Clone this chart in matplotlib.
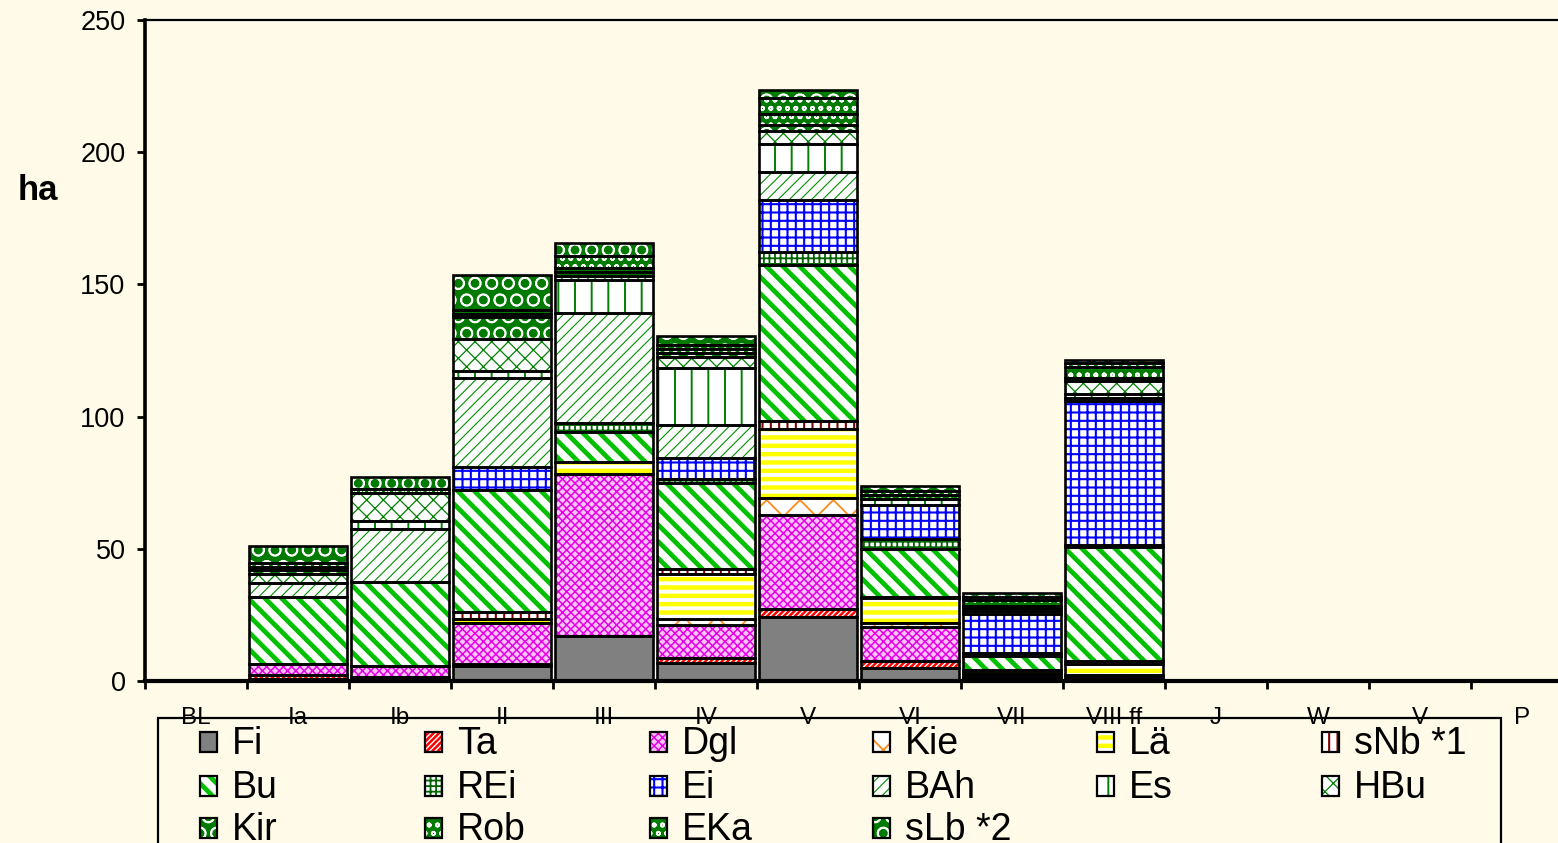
import matplotlib
matplotlib.use('Agg')
import matplotlib.pyplot as plt
from matplotlib.patches import Rectangle
import numpy as np

# ---------------- data ----------------
categories = ['BL', 'Ia', 'Ib', 'II', 'III', 'IV', 'V', 'VI', 'VII', 'VIII ff', 'J', 'W', 'V', 'P']

Fi  = [0, 0.8, 1.5, 5.5, 17.0, 6.8, 24.2, 4.9, 1.0, 0.5, 0, 0, 0, 0]
Ta  = [0, 1.5, 0.0, 1.0, 0.0, 1.9, 3.2, 2.7, 0.5, 0.3, 0, 0, 0, 0]
Dgl = [0, 4.2, 4.0, 15.5, 61.3, 12.5, 35.4, 12.8, 1.2, 1.0, 0, 0, 0, 0]
Kie = [0, 0.0, 0.0, 0.0, 0.0, 2.4, 6.4, 1.4, 0.0, 0.5, 0, 0, 0, 0]
Lae = [0, 0.0, 0.0, 1.5, 4.5, 17.0, 26.0, 9.6, 1.0, 4.1, 0, 0, 0, 0]
sNb = [0, 0.0, 0.0, 2.5, 0.0, 1.8, 3.0, 0.5, 0.5, 1.0, 0, 0, 0, 0]
Bu  = [0, 25.3, 31.9, 46.2, 11.4, 32.5, 59.1, 18.0, 5.3, 43.3, 0, 0, 0, 0]
REi = [0, 0.0, 0.0, 0.0, 3.4, 1.5, 5.0, 3.8, 1.1, 0.7, 0, 0, 0, 0]
Ei  = [0, 0.0, 0.0, 8.8, 0.0, 7.9, 19.7, 12.9, 14.7, 54.5, 0, 0, 0, 0]
BAh = [0, 5.3, 20.1, 33.6, 41.6, 12.5, 10.5, 0.0, 1.2, 1.3, 0, 0, 0, 0]
Es  = [0, 0.0, 3.2, 2.8, 12.5, 21.6, 10.6, 2.2, 1.1, 1.3, 0, 0, 0, 0]
HBu = [0, 3.4, 10.4, 11.9, 1.5, 4.1, 5.1, 0.0, 0.0, 5.0, 0, 0, 0, 0]
Kir = [0, 1.3, 0.0, 8.4, 1.5, 1.7, 2.0, 0.0, 0.8, 1.0, 0, 0, 0, 0]
Rob = [0, 1.3, 1.5, 1.0, 1.5, 1.2, 4.1, 1.5, 2.2, 4.3, 0, 0, 0, 0]
EKa = [0, 1.5, 0.0, 1.5, 4.5, 1.6, 6.2, 1.5, 1.0, 1.5, 0, 0, 0, 0]
sLb = [0, 6.6, 4.7, 13.4, 5.0, 3.5, 3.0, 2.0, 1.7, 1.1, 0, 0, 0, 0]

series_names = ['Fi', 'Ta', 'Dgl', 'Kie', 'Lä', 'sNb *1', 'Bu', 'REi', 'Ei',
                'BAh', 'Es', 'HBu', 'Kir', 'Rob', 'EKa', 'sLb *2']
series_values = [Fi, Ta, Dgl, Kie, Lae, sNb, Bu, REi, Ei, BAh, Es, HBu, Kir, Rob, EKa, sLb]

y_ticks = [0, 50, 100, 150, 200, 250]

# ---------------- styles ----------------
BG = '#FFFBE8'
DG = '#007A00'
styles = {
    'Fi':     dict(face='#808080', hc='#808080', hatch=None, lw=1.0),
    'Ta':     dict(face='white', hc='#FF0000', hatch='//////', lw=1.8),
    'Dgl':    dict(face='#FBC4FB', hc='#E600E6', hatch='xxxx', lw=1.1),
    'Kie':    dict(face='white', hc='#FF8C1A', hatch='x', lw=1.3),
    'Lä':     dict(face='white', hc='#FFFF00', hatch='--', lw=3.2),
    'sNb *1': dict(face='white', hc='#800000', hatch='||', lw=1.5),
    'Bu':     dict(face='white', hc='#00C000', hatch='\\\\', lw=3.4),
    'REi':    dict(face='white', hc='#006400', hatch='+++', lw=1.3),
    'Ei':     dict(face='white', hc='#0000FF', hatch='++', lw=1.5),
    'BAh':    dict(face='white', hc='#009000', hatch='///', lw=0.8),
    'Es':     dict(face='white', hc='#008000', hatch='|', lw=1.4),
    'HBu':    dict(face='white', hc='#008000', hatch='xx', lw=0.9),
    'Kir':    dict(face=DG, hc='white', hatch='O', lw=1.2),
    'Rob':    dict(face=DG, hc='white', hatch='oo', lw=1.2),
    'EKa':    dict(face=DG, hc='white', hatch='oo', lw=1.2),
    'sLb *2': dict(face=DG, hc='white', hatch='O', lw=1.2),
}

W, H = 1558, 843
fig = plt.figure(figsize=(W / 100, H / 100), dpi=100, facecolor=BG)
ax = fig.add_axes([145 / W, 1 - 681 / H, (1573 - 145) / W, (681 - 20) / H])
ax.set_facecolor(BG)
ax.set_zorder(1)

x = np.arange(len(categories))
bw = 0.97
bottom = np.zeros(len(categories))
for name, vals in zip(series_names, series_values):
    st = styles[name]
    vals = np.array(vals, dtype=float)
    with plt.rc_context({'hatch.linewidth': st['lw']}):
        bars = ax.bar(x, vals, bw, bottom=bottom, color=st['face'],
                      edgecolor=st['hc'], hatch=st['hatch'], linewidth=0, zorder=2)
    for b in bars:
        if hasattr(b, 'set_hatch_linewidth'):
            b.set_hatch_linewidth(st['lw'])
    ax.bar(x, vals, bw, bottom=bottom, fill=False, edgecolor='black',
           linewidth=1.9, zorder=3)
    bottom += vals

ax.set_xlim(-0.5, len(categories) - 0.5)
ax.set_ylim(0, 250)
ax.set_yticks(y_ticks)
ax.set_yticklabels([str(v) for v in y_ticks], fontsize=19.5, family='Liberation Sans')
ax.tick_params(axis='y', length=6, width=2, pad=8, direction='out')

ax.set_xticks(np.arange(-0.5, len(categories), 1))
ax.set_xticklabels([])
ax.tick_params(axis='x', which='major', length=6, width=2, direction='out')
ax.set_xticks(x, minor=True)
ax.set_xticklabels(categories, minor=True, fontsize=17.5, family='Liberation Sans')
ax.tick_params(axis='x', which='minor', length=0, pad=19)

for side, lw in [('left', 2.6), ('bottom', 3.0), ('top', 1.6), ('right', 1.6)]:
    ax.spines[side].set_linewidth(lw)
    ax.spines[side].set_color('black')

fig.text(38 / W, 1 - 190 / H, 'ha', fontsize=25, fontweight='bold',
         family='Liberation Sans', ha='center', va='center')

# ---------------- legend (manual, row-major 6 columns) ----------------
def fx(px):
    return px / W

def fy(py):
    return 1 - py / H

frame = Rectangle((fx(158), fy(880)), fx(1501) - fx(158), fy(718) - fy(880),
                  transform=fig.transFigure, facecolor=BG, edgecolor='black',
                  linewidth=1.6, zorder=-1)
fig.add_artist(frame)

col_x = [200, 425, 650, 873, 1097, 1322]
row_y = [742, 786, 828]
for i, name in enumerate(series_names):
    r, c = divmod(i, 6)
    st = styles[name]
    ix, iy = col_x[c], row_y[r]
    with plt.rc_context({'hatch.linewidth': st['lw']}):
        p = Rectangle((fx(ix), fy(iy + 10)), fx(17), fy(0) - fy(20),
                      transform=fig.transFigure, facecolor=st['face'],
                      edgecolor=st['hc'], hatch=st['hatch'], linewidth=0, zorder=2)
    if hasattr(p, 'set_hatch_linewidth'):
        p.set_hatch_linewidth(st['lw'])
    fig.add_artist(p)
    fig.add_artist(Rectangle((fx(ix), fy(iy + 10)), fx(17), fy(0) - fy(20),
                             transform=fig.transFigure, fill=False,
                             edgecolor='black', linewidth=1.6, zorder=3))
    fig.text(fx(ix + 32), fy(iy + 2), name, fontsize=27, family='Liberation Sans',
             ha='left', va='center', zorder=4)

fig.savefig('out.png', dpi=100, facecolor=BG)
